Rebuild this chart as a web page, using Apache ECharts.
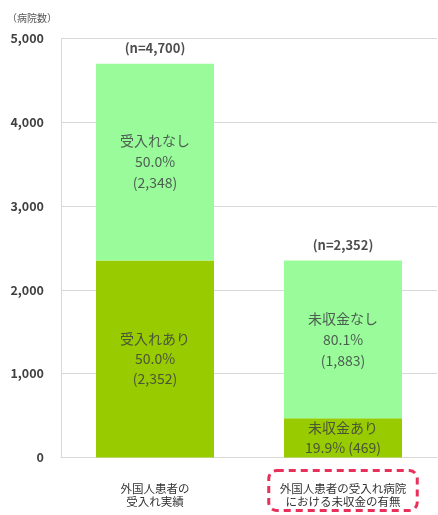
<!DOCTYPE html>
<html>
<head>
<meta charset="utf-8">
<script src="https://cdn.jsdelivr.net/npm/echarts@6/dist/echarts.min.js"></script>
<style>
  html, body { margin: 0; padding: 0; background: #fff; }
  #chart { width: 438px; height: 515px; }
</style>
</head>
<body>
<div id="chart"></div>
<script>
// Categories (x axis)
const categories = ['外国人患者の\n受入れ実績', '外国人患者の受入れ病院\nにおける未収金の有無'];

// Lower segment: accepted / unpaid bills present
const lowerValues = [2352, 469];
const lowerNames = ['受入れあり', '未収金あり'];
const lowerPcts = ['50.0%', '19.9%'];

// Upper segment: not accepted / no unpaid bills
const upperValues = [2348, 1883];
const upperNames = ['受入れなし', '未収金なし'];
const upperPcts = ['50.0%', '80.1%'];

// Totals shown above each bar
const totals = [4700, 2352];

// Y axis ticks
const yTicks = [0, 1000, 2000, 3000, 4000, 5000];

const FONT = '"Noto Sans CJK JP", "Noto Sans", sans-serif';
const fmt = v => v.toLocaleString('en-US');

const chart = echarts.init(document.getElementById('chart'));

chart.setOption({
  backgroundColor: '#fff',
  animation: false,
  textStyle: { fontFamily: FONT },
  title: {
    text: '（病院数）',
    left: 2,
    top: 8,
    textStyle: { fontSize: 10, fontWeight: 'normal', color: '#555', fontFamily: FONT }
  },
  grid: { left: 61, right: 1, top: 38.5, bottom: 57.5, outerBoundsMode: 'none', containLabel: false },
  xAxis: {
    type: 'category',
    data: categories.map((c, i) => ({
      value: c,
      // the second category is framed with a dashed red rounded box
      textStyle: i === 1
        ? { borderColor: '#e8305a', borderWidth: 3, borderType: [7, 5], borderRadius: 8, padding: [12, 11, 2, 11] }
        : { padding: [12, 11, 2, 11] }
    })),
    axisLine: { show: true, lineStyle: { color: '#d9d9d9' } },
    axisTick: { show: false },
    axisLabel: {
      interval: 0,
      margin: 13,
      fontSize: 11.5,
      lineHeight: 13,
      color: '#333',
      fontFamily: FONT
    }
  },
  yAxis: {
    type: 'value',
    min: yTicks[0],
    max: yTicks[yTicks.length - 1],
    interval: 1000,
    axisLine: { show: true, lineStyle: { color: '#d9d9d9' } },
    axisTick: { show: false },
    splitLine: { show: true, lineStyle: { color: '#d9d9d9' } },
    axisLabel: {
      margin: 17,
      fontSize: 12.5,
      color: '#404040',
      fontWeight: 'bold',
      fontFamily: FONT,
      formatter: v => fmt(v)
    }
  },
  series: [
    {
      type: 'bar',
      stack: 'total',
      barWidth: 118,
      data: lowerValues,
      itemStyle: { color: '#99cc00' },
      label: {
        show: true,
        position: 'inside',
        fontSize: 14,
        lineHeight: 20,
        color: '#4a5538',
        fontFamily: FONT,
        formatter: p => p.dataIndex === 0
          ? lowerNames[0] + '\n' + lowerPcts[0] + '\n(' + fmt(p.value) + ')'
          : lowerNames[1] + '\n' + lowerPcts[1] + ' (' + fmt(p.value) + ')'
      }
    },
    {
      type: 'bar',
      stack: 'total',
      barWidth: 118,
      data: upperValues,
      itemStyle: { color: '#99fb99' },
      label: {
        show: true,
        position: 'inside',
        fontSize: 14,
        lineHeight: 21,
        color: '#4c5e52',
        fontFamily: FONT,
        formatter: p => upperNames[p.dataIndex] + '\n' + upperPcts[p.dataIndex] + '\n(' + fmt(p.value) + ')'
      }
    },
    {
      type: 'scatter',
      data: totals,
      symbolSize: 0,
      silent: true,
      label: {
        show: true,
        position: 'top',
        distance: 9,
        fontSize: 13,
        fontWeight: 'bold',
        color: '#222',
        fontFamily: FONT,
        formatter: p => '(n=' + fmt(p.value) + ')'
      }
    }
  ]
});
</script>
</body>
</html>
